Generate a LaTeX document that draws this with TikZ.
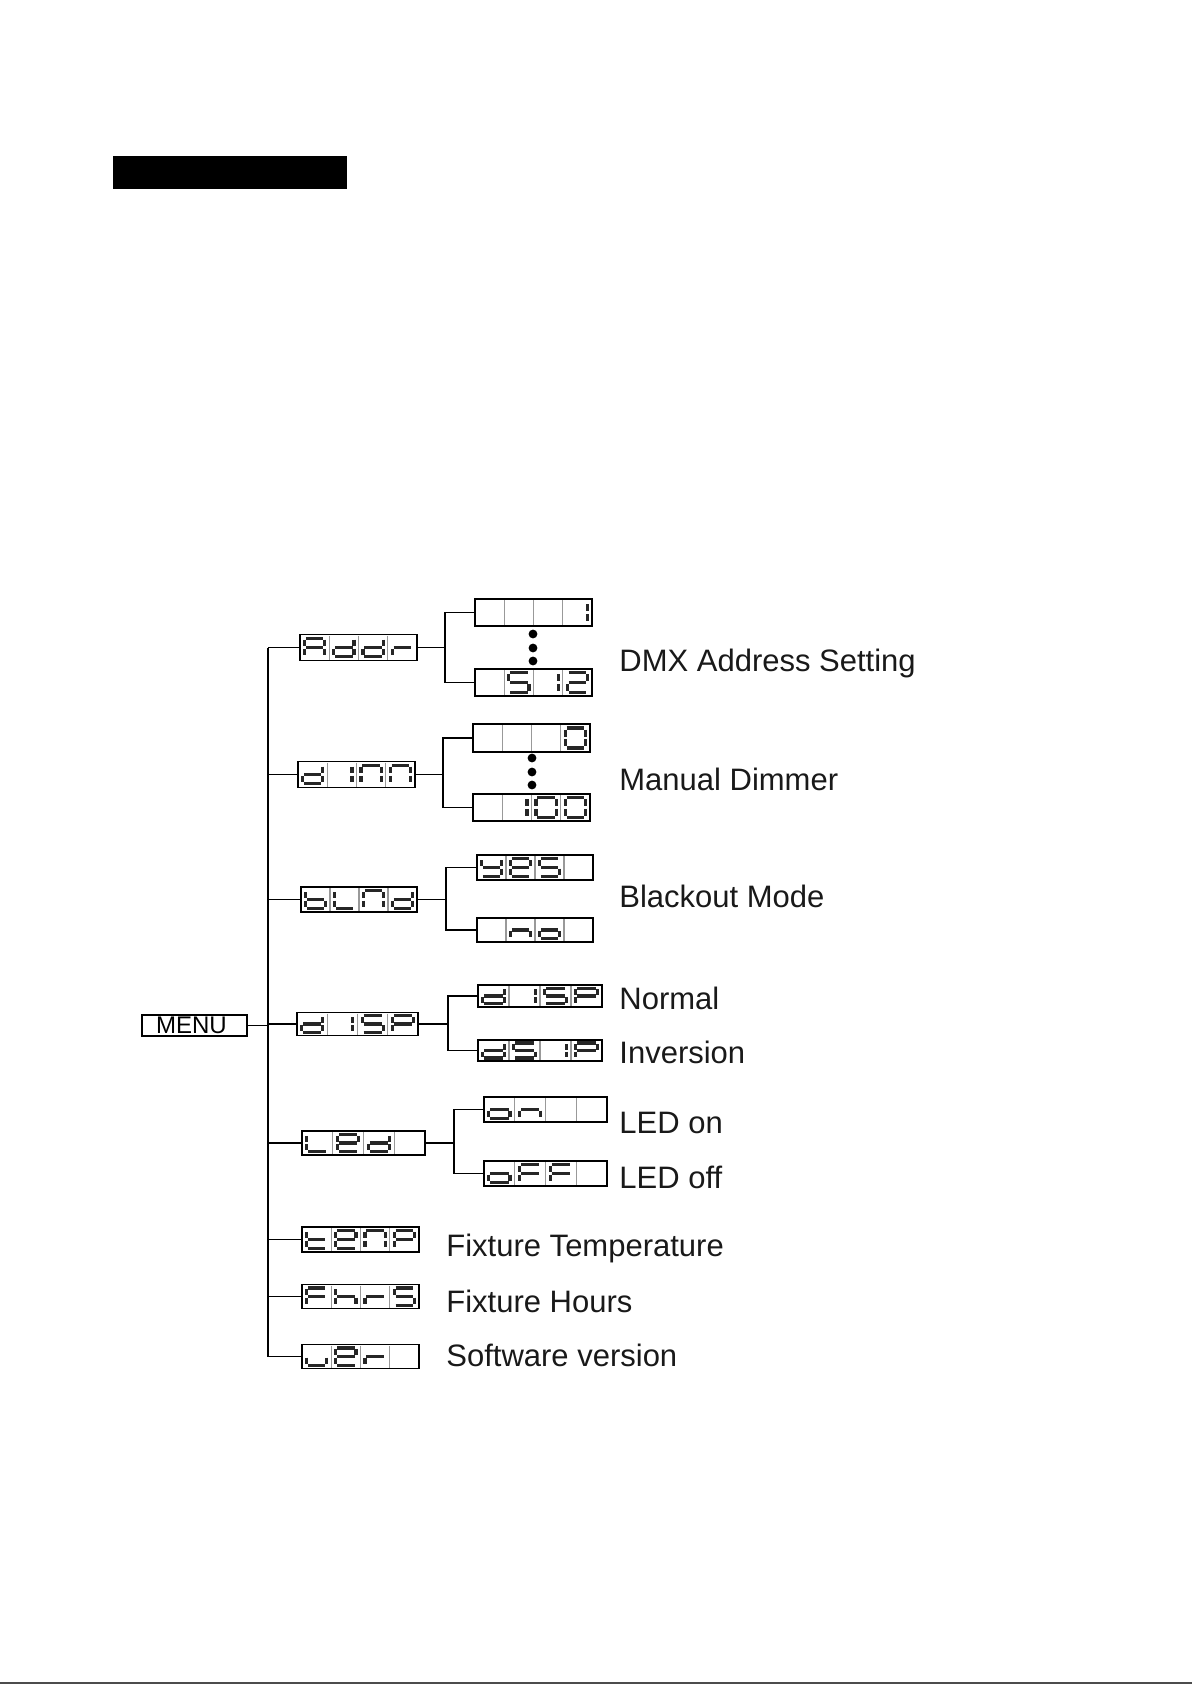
\documentclass[tikz,border=0pt]{standalone}
\usepackage{fontspec}
\setmainfont{Liberation Sans}
\tikzset{
  dispbox/.style={draw=black, line width=0.9pt, fill=white, inner sep=0pt},
  divider/.style={draw=black!40, line width=0.6pt},
  segline/.style={draw=black!85, line width=1.55pt, line cap=butt},
  conn/.style={draw=black, line width=0.9pt},
  trunkline/.style={draw=black, line width=1.3pt},
  lbltext/.style={anchor=base west, inner sep=0pt, text=black!90, font=\fontsize{15.5}{18}\selectfont},
  dotnode/.style={circle, fill=black, inner sep=0pt, minimum size=4.4pt},
}
% seven-segment pieces in a nominal 29 x 25 cell
\newcommand\sgma{\draw[segline] (5.9,3.6) -- (23.1,3.6);}
\newcommand\sgmb{\draw[segline] (24.5,5.0) -- (24.5,11.3);}
\newcommand\sgmc{\draw[segline] (24.5,13.7) -- (24.5,20.0);}
\newcommand\sgmd{\draw[segline] (5.9,21.4) -- (23.1,21.4);}
\newcommand\sgme{\draw[segline] (4.5,13.7) -- (4.5,20.0);}
\newcommand\sgmf{\draw[segline] (4.5,5.0) -- (4.5,11.3);}
\newcommand\sgmg{\draw[segline] (5.9,12.5) -- (23.1,12.5);}
\newcommand{\dcell}[6]{%
  \begin{scope}[shift={({#1-#3/2+#5*#3/4},{#2-#4/2})},xscale={#3/116},yscale={#4/25}]
    \foreach \s in {#6}{\csname sgm\s\endcsname}
  \end{scope}}
\newcommand{\segdisp}[9]{%
  \node[dispbox, minimum width={#4*0.5pt}, minimum height={#5*0.5pt}] (#1) at (#2,#3) {};
  \foreach \k in {1,2,3}{\draw[divider] ({#2-#4/2+\k*#4/4},{#3-#5/2+1}) -- ({#2-#4/2+\k*#4/4},{#3+#5/2-1});}
  \dcell{#2}{#3}{#4}{#5}{0}{#6}
  \dcell{#2}{#3}{#4}{#5}{1}{#7}
  \dcell{#2}{#3}{#4}{#5}{2}{#8}
  \dcell{#2}{#3}{#4}{#5}{3}{#9}}
\newcommand{\branch}[4]{%
  \coordinate (#1-b) at (#4,0);
  \draw[conn] (#1.east) -- (#1.east -| #1-b);
  \draw[conn] (#2.west) -- (#2.west -| #1-b) -- (#3.west -| #1-b) -- (#3.west);}
\begin{document}
\begin{tikzpicture}[x=0.5pt,y=-0.5pt]
\useasboundingbox (0,0) rectangle (1192,1685);
\node[fill=black, inner sep=0pt, minimum width=117pt, minimum height=16.5pt] (titlebar) at (230,172.5) {};
\draw[black!70, line width=0.6pt] (0,1683) -- (1192,1683);

\node[draw, line width=0.7pt, minimum width=52.5pt, minimum height=10.5pt, inner sep=0pt,
      font=\fontsize{12}{12}\selectfont] (menu) at (194.5,1025.5) {\hspace*{-3pt}MENU};
\coordinate (tr) at (268,648);

% level 1
\segdisp{addr}{358.5}{647.5}{117}{26}{a,b,c,e,f,g}{b,c,d,e,g}{b,c,d,e,g}{e,g}
\segdisp{dinn}{356.5}{774.5}{117}{26}{b,c,d,e,g}{b,c}{a,b,c,e,f}{a,b,c,e,f}
\segdisp{blnd}{359}{899.5}{116}{25}{c,d,e,f,g}{d,e,f}{a,b,c,e,f}{b,c,d,e,g}
\segdisp{disp}{357.5}{1024}{121}{23}{b,c,d,e,g}{b,c}{a,c,d,f,g}{a,b,e,f,g}
\segdisp{led}{363.5}{1143}{123}{24}{d,e,f}{a,b,d,e,f,g}{b,c,d,e,g}{}
\segdisp{temp}{360.5}{1239.5}{117}{25}{d,e,f,g}{a,b,d,e,f,g}{a,b,c,e,f}{a,b,e,f,g}
\segdisp{fhrs}{360.5}{1296.5}{117}{24}{a,e,f,g}{c,e,f,g}{e,g}{a,c,d,f,g}
\segdisp{ver}{360.5}{1356.5}{117}{24}{c,d,e}{a,b,d,e,f,g}{e,g}{}

% level 2
\segdisp{aone}{533.5}{612.5}{117}{27}{}{}{}{b,c}
\segdisp{amax}{533.5}{682.5}{117}{27}{}{a,c,d,f,g}{b,c}{a,b,d,e,g}
\segdisp{dzero}{531.5}{738}{117}{28}{}{}{}{a,b,c,d,e,f}
\segdisp{dmax}{531.5}{807.5}{117}{27}{}{b,c}{a,b,c,d,e,f}{a,b,c,d,e,f}
\segdisp{byes}{535}{867.5}{116}{25}{b,c,d,f,g}{a,b,d,e,f,g}{a,c,d,f,g}{}
\segdisp{bno}{535}{930}{116}{24}{}{c,e,g}{c,d,e,g}{}
\segdisp{dnorm}{540}{996}{124}{22}{b,c,d,e,g}{b,c}{a,c,d,f,g}{a,b,e,f,g}
\segdisp{dinv}{540}{1050.5}{124}{21}{b,c,d,e,g}{a,c,d,f,g}{b,c}{a,b,e,f,g}
\segdisp{lon}{545.5}{1109.5}{123}{25}{c,d,e,g}{c,e,g}{}{}
\segdisp{loff}{545.5}{1173.5}{123}{25}{c,d,e,g}{a,e,f,g}{a,e,f,g}{}

% dots
\node[dotnode] (ad1) at (533,634) {};
\node[dotnode] (ad2) at (533,648) {};
\node[dotnode] (ad3) at (533,661) {};
\node[dotnode] (dd1) at (532,758) {};
\node[dotnode] (dd2) at (532,772) {};
\node[dotnode] (dd3) at (532,785) {};

% connectors
\draw[trunkline] (addr.west -| tr) -- (ver.west -| tr);
\foreach \n in {addr,dinn,blnd,disp,led,temp,fhrs,ver}{\draw[conn] (\n.west) -- (\n.west -| tr);}
\draw[conn] (menu.east) -- (menu.east -| tr);
\branch{addr}{aone}{amax}{445}
\branch{dinn}{dzero}{dmax}{443}
\branch{blnd}{byes}{bno}{446}
\branch{disp}{dnorm}{dinv}{448}
\branch{led}{lon}{loff}{454}

% labels
\node[lbltext] (l1) at (619,671) {DMX Address Setting};
\node[lbltext] (l2) at (619,790) {Manual Dimmer};
\node[lbltext] (l3) at (619,907) {Blackout Mode};
\node[lbltext] (l4) at (619,1009) {Normal};
\node[lbltext] (l5) at (619,1063) {Inversion};
\node[lbltext] (l6) at (619,1133) {LED on};
\node[lbltext] (l7) at (619,1188) {LED off};
\node[lbltext] (l8) at (446,1256) {Fixture Temperature};
\node[lbltext] (l9) at (446,1312) {Fixture Hours};
\node[lbltext] (l10) at (446,1366) {Software version};
\end{tikzpicture}
\end{document}
